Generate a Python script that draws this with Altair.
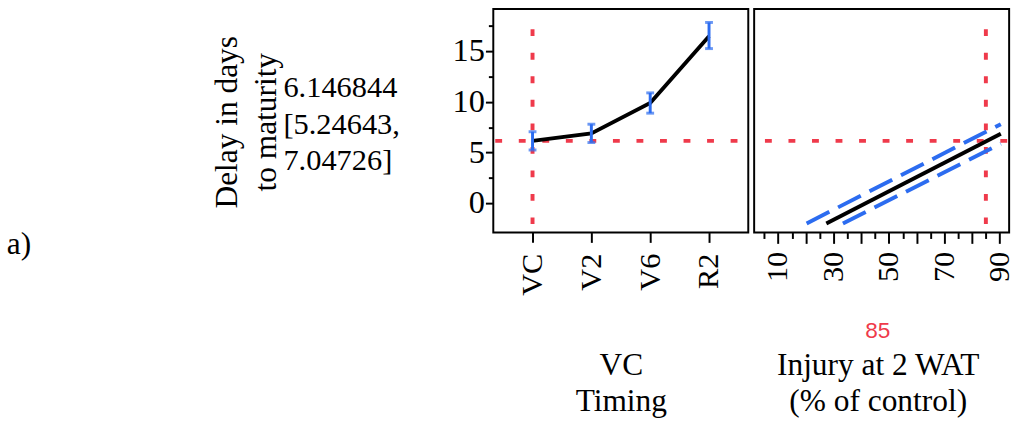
import altair as alt
import pandas as pd

# ---------------- data ----------------
TIMING = ["VC", "V2", "V6", "R2"]
TIMING_MEAN = [6.146844, 6.88, 9.88, 16.47]
TIMING_LO = [5.24643, 5.98, 8.88, 15.25]
TIMING_HI = [7.04726, 7.79, 10.88, 17.83]

FIT_X = [27.4, 90.4]
FIT_Y = [-2.0, 6.86]
UPPER_X = [20.3, 90.4]
UPPER_Y = [-2.0, 7.79]
LOWER_X = [33.4, 90.4]
LOWER_Y = [-2.0, 5.86]

CURRENT_TIMING = "VC"
CURRENT_INJURY = 85
CURRENT_DELAY = 6.146844
CURRENT_CI = [5.24643, 7.04726]
REF_Y_SPAN = [17.16, -2.06]

Y_DOMAIN = [-2.9, 19.16]
X_DOMAIN = [1.35, 93.4]
Y_TICKS = [0, 2.5, 5, 7.5, 10, 12.5, 15, 17.5]
X_TICKS = [5, 10, 15, 20, 25, 30, 35, 40, 45, 50, 55, 60, 65, 70, 75, 80, 85, 90]

Y_TITLE = ["Delay in days", "to maturity"]
X1_TITLE = ["VC", "Timing"]
X2_TITLE = ["Injury at 2 WAT", "(% of control)"]
PANEL_LABEL = "a)"

# ---------------- style ----------------
RED = "#EF3A4B"
BLUE = "#2C6CF0"
SERIF = "Liberation Serif"
SANS = "Liberation Sans"
W, H = 260, 228

yscale = alt.Scale(domain=Y_DOMAIN, nice=False, zero=False)
y_axis = alt.Axis(
    values=Y_TICKS,
    labelExpr="datum.value % 5 === 0 ? datum.label : ''",
    tickSize={"condition": {"test": "datum.value % 5 === 0", "value": 8}, "value": 5},
    labelPadding=1,
    labelFont=SERIF, labelFontSize=33, labelColor="black",
    domain=False, grid=False, tickColor="black", tickWidth=2,
    title=Y_TITLE, titleFont=SERIF, titleFontSize=32, titleFontWeight="normal",
    titleColor="black", titleAngle=270, titleX=-262, titleY=115,
    titleAlign="center", titleBaseline="alphabetic", titleLineHeight=40,
)

x1_axis = alt.Axis(
    labelAngle=270, labelFont=SERIF, labelFontSize=31, labelColor="black",
    tickSize=10, tickWidth=2, tickColor="black", labelPadding=11,
    domain=False, grid=False,
    title=X1_TITLE, titleFont=SERIF, titleFontSize=32, titleFontWeight="normal",
    titleColor="black", titleX=130, titleY=145, titleAlign="center",
    titleBaseline="alphabetic", titleLineHeight=36,
)

x2_axis = alt.Axis(
    values=X_TICKS,
    labelExpr="(datum.value - 10) % 20 === 0 ? datum.label : ''",
    tickSize={"condition": {"test": "datum.value % 10 === 0", "value": 11}, "value": 6},
    labelAngle=270, labelFont=SERIF, labelFontSize=31, labelColor="black",
    tickWidth=2, tickColor="black", labelPadding=8,
    domain=False, grid=False,
    title=X2_TITLE, titleFont=SERIF, titleFontSize=32, titleFontWeight="normal",
    titleColor="black", titleX=126, titleY=145, titleAlign="center",
    titleBaseline="alphabetic", titleLineHeight=36,
)

x1 = alt.X("timing:N", sort=TIMING, scale=alt.Scale(type="point", padding=0.667), axis=x1_axis)

# ---------------- left panel ----------------
timing_df = pd.DataFrame({
    "idx": list(range(len(TIMING))),
    "timing": TIMING, "mean": TIMING_MEAN, "lo": TIMING_LO, "hi": TIMING_HI,
})
ref_left = pd.DataFrame({"timing": [CURRENT_TIMING], "y": [CURRENT_DELAY],
                         "ya": [REF_Y_SPAN[0]], "yb": [REF_Y_SPAN[1]]})
cur_text = pd.DataFrame({"t": [f"{CURRENT_DELAY}\n[{CURRENT_CI[0]},\n{CURRENT_CI[1]}]"]})
lab_df = pd.DataFrame({"t": [PANEL_LABEL]})

hline_l = alt.Chart(ref_left).mark_rule(
    color=RED, strokeWidth=4, strokeDash=[7, 17], strokeDashOffset=13
).encode(y=alt.Y("y:Q", scale=yscale, axis=y_axis))

vline_l = alt.Chart(ref_left).mark_rule(
    color=RED, strokeWidth=4, strokeDash=[7, 17]
).encode(x=x1, y=alt.Y("ya:Q", scale=yscale, axis=y_axis), y2="yb:Q")

line_l = alt.Chart(timing_df).mark_line(color="black", strokeWidth=4).encode(
    x=x1, y=alt.Y("mean:Q", scale=yscale, axis=y_axis), order="idx:Q")

err_l = alt.Chart(timing_df).mark_rule(color=BLUE, strokeWidth=3).encode(
    x=x1, y=alt.Y("lo:Q", scale=yscale, axis=y_axis), y2="hi:Q")

cap_lo = alt.Chart(timing_df).mark_tick(color=BLUE, thickness=3, size=8).encode(
    x=x1, y=alt.Y("lo:Q", scale=yscale, axis=y_axis))
cap_hi = alt.Chart(timing_df).mark_tick(color=BLUE, thickness=3, size=8).encode(
    x=x1, y=alt.Y("hi:Q", scale=yscale, axis=y_axis))

txt_cur = alt.Chart(cur_text).mark_text(
    align="left", baseline="alphabetic", font=SERIF, fontSize=31,
    lineBreak="\n", lineHeight=37, color="black"
).encode(x=alt.value(-214), y=alt.value(90), text="t:N")

txt_a = alt.Chart(lab_df).mark_text(
    align="left", baseline="alphabetic", font=SERIF, fontSize=32, color="black"
).encode(x=alt.value(-496), y=alt.value(250), text="t:N")

left = alt.layer(hline_l, vline_l, line_l, err_l, cap_lo, cap_hi, txt_cur, txt_a).properties(
    width=W, height=H)

# ---------------- right panel ----------------
x2scale = alt.Scale(domain=X_DOMAIN, nice=False, zero=False)
x2 = alt.X("x:Q", scale=x2scale, axis=x2_axis)
y2enc = alt.Y("y:Q", scale=yscale, axis=None)

fit_df = pd.DataFrame({"x": FIT_X, "y": FIT_Y})
ci_df = pd.DataFrame({
    "x": UPPER_X + LOWER_X,
    "y": UPPER_Y + LOWER_Y,
    "band": ["upper"] * len(UPPER_X) + ["lower"] * len(LOWER_X),
})
ref_right = pd.DataFrame({"x": [CURRENT_INJURY], "y": [CURRENT_DELAY],
                          "xa": [X_DOMAIN[0]], "xb": [X_DOMAIN[1]],
                          "ya": [REF_Y_SPAN[0]], "yb": [REF_Y_SPAN[1]],
                          "t": [str(CURRENT_INJURY)]})

hline_r = alt.Chart(ref_right).mark_rule(
    color=RED, strokeWidth=4, strokeDash=[7, 17], strokeDashOffset=13
).encode(x=alt.X("xa:Q", scale=x2scale, axis=x2_axis), x2="xb:Q", y=y2enc)

vline_r = alt.Chart(ref_right).mark_rule(
    color=RED, strokeWidth=4, strokeDash=[7, 17]
).encode(x=x2, y=alt.Y("ya:Q", scale=yscale, axis=None), y2="yb:Q")

fit_line = alt.Chart(fit_df).mark_line(color="black", strokeWidth=4).encode(x=x2, y=y2enc)

ci_line = alt.Chart(ci_df).mark_line(color=BLUE, strokeWidth=4, strokeDash=[26, 10]).encode(
    x=x2, y=y2enc, detail="band:N")

txt_85 = alt.Chart(ref_right).mark_text(
    align="center", baseline="alphabetic", font=SANS, fontSize=23, color=RED
).encode(x=alt.value(126), y=alt.value(335), text="t:N")

right = alt.layer(hline_r, vline_r, fit_line, ci_line, txt_85).properties(width=W, height=H)

chart = alt.hconcat(left, right, spacing=0).properties(
    padding={"left": 6, "top": 4, "right": 0, "bottom": 0},
    background="white",
).configure_view(stroke="black", strokeWidth=2)

chart.save("out.html", embed_options={"renderer": "svg", "actions": False})
